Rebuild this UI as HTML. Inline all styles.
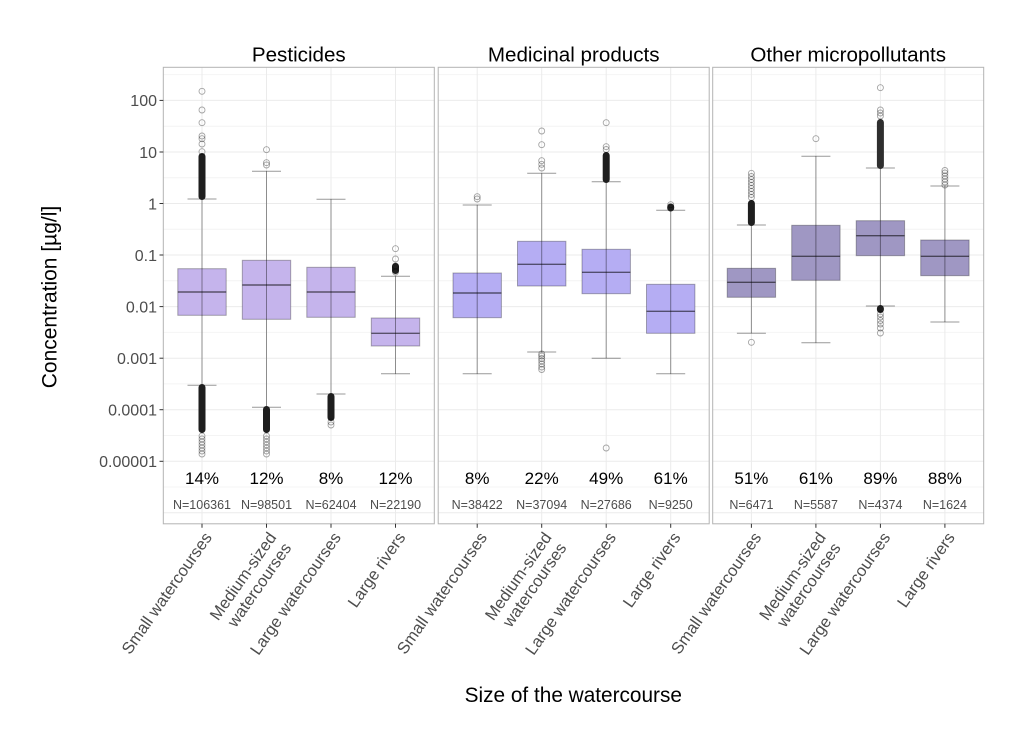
<!DOCTYPE html>
<html><head><meta charset="utf-8"><style>
html,body{margin:0;padding:0;background:#fff;}
svg{display:block;font-family:"Liberation Sans",Arial,sans-serif;}
.gM{stroke:#ebebeb;stroke-width:1;}
.gm{stroke:#f4f4f4;stroke-width:1;}
.w{stroke:rgba(0,0,0,0.4);stroke-width:1;fill:none;}
.b1{fill:#c5b4ec;stroke:rgba(0,0,0,0.3);stroke-width:1;}
.b2{fill:#b5adf3;stroke:rgba(0,0,0,0.3);stroke-width:1;}
.b3{fill:#9f97c3;stroke:rgba(0,0,0,0.3);stroke-width:1;}
.md{stroke:rgba(0,0,0,0.55);stroke-width:1.4;}
.o{fill:none;stroke:rgba(0,0,0,0.35);stroke-width:0.9;}
.d{fill:#1e1e1e;}
.pct{font-size:17px;fill:#000;text-anchor:middle;}
.n{font-size:12.5px;fill:#4d4d4d;text-anchor:middle;}
.yt{font-size:16px;fill:#4d4d4d;text-anchor:end;}
.xt{font-size:16.5px;fill:#4d4d4d;text-anchor:end;}
.st{font-size:20.6px;fill:#000;text-anchor:middle;}
.tk{stroke:#333;stroke-width:1;}
.pb{fill:none;stroke:#b3b3b3;stroke-width:1;}
</style></head><body>
<svg width="1024" height="747" viewBox="0 0 1024 747" xmlns="http://www.w3.org/2000/svg">
<rect width="1024" height="747" fill="#fff"/>
<defs>
<clipPath id="c1"><rect x="163.3" y="67.3" width="271" height="456.5"/></clipPath>
<clipPath id="c2"><rect x="438.2" y="67.3" width="271" height="456.5"/></clipPath>
<clipPath id="c3"><rect x="712.7" y="67.3" width="271" height="456.5"/></clipPath>
</defs>

<!-- ===== Panel 1 ===== -->
<g clip-path="url(#c1)">
<rect x="163.3" y="67.3" width="271" height="456.5" fill="#fff"/>
<g class="gm">
<line x1="163" x2="435" y1="74.6" y2="74.6"/><line x1="163" x2="435" y1="126.2" y2="126.2"/><line x1="163" x2="435" y1="177.7" y2="177.7"/><line x1="163" x2="435" y1="229.3" y2="229.3"/><line x1="163" x2="435" y1="280.8" y2="280.8"/><line x1="163" x2="435" y1="332.4" y2="332.4"/><line x1="163" x2="435" y1="383.9" y2="383.9"/><line x1="163" x2="435" y1="435.5" y2="435.5"/><line x1="163" x2="435" y1="487" y2="487"/>
</g>
<g class="gM">
<line x1="163" x2="435" y1="100.4" y2="100.4"/><line x1="163" x2="435" y1="152" y2="152"/><line x1="163" x2="435" y1="203.5" y2="203.5"/><line x1="163" x2="435" y1="255" y2="255"/><line x1="163" x2="435" y1="306.6" y2="306.6"/><line x1="163" x2="435" y1="358.2" y2="358.2"/><line x1="163" x2="435" y1="409.7" y2="409.7"/><line x1="163" x2="435" y1="461.3" y2="461.3"/><line x1="163" x2="435" y1="512.8" y2="512.8"/>
<line x1="202" x2="202" y1="67" y2="524"/><line x1="266.5" x2="266.5" y1="67" y2="524"/><line x1="331" x2="331" y1="67" y2="524"/><line x1="395.5" x2="395.5" y1="67" y2="524"/>
</g>
<!-- B1 -->
<rect class="b1" x="177.8" y="268.7" width="48.4" height="46.6"/>
<line class="w" x1="202" x2="202" y1="199" y2="385.3"/>
<line class="w" x1="187.5" x2="216.5" y1="199" y2="199"/><line class="w" x1="187.5" x2="216.5" y1="385.3" y2="385.3"/>
<line class="md" x1="177.8" x2="226.2" y1="292" y2="292"/>
<rect class="d" x="198.5" y="153" width="7" height="47" rx="3.5"/>
<circle class="o" cx="202" cy="151.7" r="3"/><circle class="o" cx="202" cy="144" r="3"/><circle class="o" cx="202" cy="138.7" r="3"/><circle class="o" cx="202" cy="136" r="3"/><circle class="o" cx="202" cy="122.7" r="3"/><circle class="o" cx="202" cy="110" r="3"/><circle class="o" cx="202" cy="91.3" r="3"/>
<rect class="d" x="198.5" y="384" width="7" height="49" rx="3.5"/>
<circle class="o" cx="202" cy="436" r="3"/><circle class="o" cx="202" cy="439" r="3"/><circle class="o" cx="202" cy="442" r="3"/><circle class="o" cx="202" cy="445" r="3"/><circle class="o" cx="202" cy="448" r="3"/><circle class="o" cx="202" cy="451" r="3"/><circle class="o" cx="202" cy="454" r="3"/>
<!-- B2 -->
<rect class="b1" x="242.3" y="260.3" width="48.4" height="59"/>
<line class="w" x1="266.5" x2="266.5" y1="171.3" y2="407.3"/>
<line class="w" x1="252" x2="281" y1="171.3" y2="171.3"/><line class="w" x1="252" x2="281" y1="407.3" y2="407.3"/>
<line class="md" x1="242.3" x2="290.7" y1="285" y2="285"/>
<circle class="o" cx="266.5" cy="165" r="3"/><circle class="o" cx="266.5" cy="162.7" r="3"/><circle class="o" cx="266.5" cy="149.7" r="3"/>
<rect class="d" x="263" y="406" width="7" height="27" rx="3.5"/>
<circle class="o" cx="266.5" cy="436" r="3"/><circle class="o" cx="266.5" cy="439" r="3"/><circle class="o" cx="266.5" cy="442" r="3"/><circle class="o" cx="266.5" cy="445" r="3"/><circle class="o" cx="266.5" cy="448" r="3"/><circle class="o" cx="266.5" cy="451" r="3"/><circle class="o" cx="266.5" cy="454" r="3"/>
<!-- B3 -->
<rect class="b1" x="306.8" y="267.3" width="48.4" height="50"/>
<line class="w" x1="331" x2="331" y1="199.3" y2="394"/>
<line class="w" x1="316.5" x2="345.5" y1="199.3" y2="199.3"/><line class="w" x1="316.5" x2="345.5" y1="394" y2="394"/>
<line class="md" x1="306.8" x2="355.2" y1="292" y2="292"/>
<rect class="d" x="327.5" y="393" width="7" height="28" rx="3.5"/>
<circle class="o" cx="331" cy="422" r="3"/><circle class="o" cx="331" cy="425" r="3"/>
<!-- B4 -->
<rect class="b1" x="371.3" y="318" width="48.4" height="28"/>
<line class="w" x1="395.5" x2="395.5" y1="276.3" y2="373.7"/>
<line class="w" x1="381" x2="410" y1="276.3" y2="276.3"/><line class="w" x1="381" x2="410" y1="373.7" y2="373.7"/>
<line class="md" x1="371.3" x2="419.7" y1="333.3" y2="333.3"/>
<circle class="o" cx="395.5" cy="248.7" r="3"/><circle class="o" cx="395.5" cy="259" r="3"/>
<rect class="d" x="392" y="263" width="7" height="11" rx="3.5"/>
<circle class="o" cx="395.5" cy="266" r="3"/><circle class="o" cx="395.5" cy="272" r="3"/>
<text class="pct" x="202" y="484">14%</text><text class="pct" x="266.5" y="484">12%</text><text class="pct" x="331" y="484">8%</text><text class="pct" x="395.5" y="484">12%</text>
<text class="n" x="202" y="509">N=106361</text><text class="n" x="266.5" y="509">N=98501</text><text class="n" x="331" y="509">N=62404</text><text class="n" x="395.5" y="509">N=22190</text>
</g>
<rect class="pb" x="163.3" y="67.3" width="271" height="456.5"/>

<!-- ===== Panel 2 ===== -->
<g clip-path="url(#c2)">
<rect x="438.2" y="67.3" width="271" height="456.5" fill="#fff"/>
<g class="gm">
<line x1="438" x2="710" y1="74.6" y2="74.6"/><line x1="438" x2="710" y1="126.2" y2="126.2"/><line x1="438" x2="710" y1="177.7" y2="177.7"/><line x1="438" x2="710" y1="229.3" y2="229.3"/><line x1="438" x2="710" y1="280.8" y2="280.8"/><line x1="438" x2="710" y1="332.4" y2="332.4"/><line x1="438" x2="710" y1="383.9" y2="383.9"/><line x1="438" x2="710" y1="435.5" y2="435.5"/><line x1="438" x2="710" y1="487" y2="487"/>
</g>
<g class="gM">
<line x1="438" x2="710" y1="100.4" y2="100.4"/><line x1="438" x2="710" y1="152" y2="152"/><line x1="438" x2="710" y1="203.5" y2="203.5"/><line x1="438" x2="710" y1="255" y2="255"/><line x1="438" x2="710" y1="306.6" y2="306.6"/><line x1="438" x2="710" y1="358.2" y2="358.2"/><line x1="438" x2="710" y1="409.7" y2="409.7"/><line x1="438" x2="710" y1="461.3" y2="461.3"/><line x1="438" x2="710" y1="512.8" y2="512.8"/>
<line x1="477.2" x2="477.2" y1="67" y2="524"/><line x1="541.7" x2="541.7" y1="67" y2="524"/><line x1="606.2" x2="606.2" y1="67" y2="524"/><line x1="670.7" x2="670.7" y1="67" y2="524"/>
</g>
<!-- B1 -->
<rect class="b2" x="453" y="273" width="48.4" height="44.7"/>
<line class="w" x1="477.2" x2="477.2" y1="205" y2="373.7"/>
<line class="w" x1="462.7" x2="491.7" y1="205" y2="205"/><line class="w" x1="462.7" x2="491.7" y1="373.7" y2="373.7"/>
<line class="md" x1="453" x2="501.4" y1="293" y2="293"/>
<circle class="o" cx="477.2" cy="196.7" r="3"/><circle class="o" cx="477.2" cy="199" r="3"/>
<!-- B2 -->
<rect class="b2" x="517.5" y="241.3" width="48.4" height="44.7"/>
<line class="w" x1="541.7" x2="541.7" y1="173.3" y2="352"/>
<line class="w" x1="527.2" x2="556.2" y1="173.3" y2="173.3"/><line class="w" x1="527.2" x2="556.2" y1="352" y2="352"/>
<line class="md" x1="517.5" x2="565.9" y1="264.3" y2="264.3"/>
<circle class="o" cx="541.7" cy="131" r="3"/><circle class="o" cx="541.7" cy="144.7" r="3"/><circle class="o" cx="541.7" cy="160.7" r="3"/><circle class="o" cx="541.7" cy="164.3" r="3"/><circle class="o" cx="541.7" cy="168" r="3"/>
<circle class="o" cx="541.7" cy="354" r="3"/><circle class="o" cx="541.7" cy="356" r="3"/><circle class="o" cx="541.7" cy="358.5" r="3"/><circle class="o" cx="541.7" cy="361" r="3"/><circle class="o" cx="541.7" cy="364" r="3"/><circle class="o" cx="541.7" cy="367" r="3"/><circle class="o" cx="541.7" cy="369.5" r="3"/>
<!-- B3 -->
<rect class="b2" x="582" y="249.3" width="48.4" height="44.4"/>
<line class="w" x1="606.2" x2="606.2" y1="181.7" y2="358.3"/>
<line class="w" x1="591.7" x2="620.7" y1="181.7" y2="181.7"/><line class="w" x1="591.7" x2="620.7" y1="358.3" y2="358.3"/>
<line class="md" x1="582" x2="630.4" y1="272.3" y2="272.3"/>
<rect class="d" x="602.7" y="152" width="7" height="31" rx="3.5"/>
<circle class="o" cx="606.2" cy="146.7" r="3"/><circle class="o" cx="606.2" cy="149.5" r="3"/><circle class="o" cx="606.2" cy="122.7" r="3"/>
<circle class="o" cx="606.2" cy="448" r="3"/>
<!-- B4 -->
<rect class="b2" x="646.5" y="284.3" width="48.4" height="49"/>
<line class="w" x1="670.7" x2="670.7" y1="210.3" y2="373.7"/>
<line class="w" x1="656.2" x2="685.2" y1="210.3" y2="210.3"/><line class="w" x1="656.2" x2="685.2" y1="373.7" y2="373.7"/>
<line class="md" x1="646.5" x2="694.9" y1="311.3" y2="311.3"/>
<rect class="d" x="667.2" y="203.5" width="7" height="8" rx="3.5"/>
<circle class="o" cx="670.7" cy="204.7" r="3"/>
<text class="pct" x="477.2" y="484">8%</text><text class="pct" x="541.7" y="484">22%</text><text class="pct" x="606.2" y="484">49%</text><text class="pct" x="670.7" y="484">61%</text>
<text class="n" x="477.2" y="509">N=38422</text><text class="n" x="541.7" y="509">N=37094</text><text class="n" x="606.2" y="509">N=27686</text><text class="n" x="670.7" y="509">N=9250</text>
</g>
<rect class="pb" x="438.2" y="67.3" width="271" height="456.5"/>

<!-- ===== Panel 3 ===== -->
<g clip-path="url(#c3)">
<rect x="712.7" y="67.3" width="271" height="456.5" fill="#fff"/>
<g class="gm">
<line x1="712" x2="984" y1="74.6" y2="74.6"/><line x1="712" x2="984" y1="126.2" y2="126.2"/><line x1="712" x2="984" y1="177.7" y2="177.7"/><line x1="712" x2="984" y1="229.3" y2="229.3"/><line x1="712" x2="984" y1="280.8" y2="280.8"/><line x1="712" x2="984" y1="332.4" y2="332.4"/><line x1="712" x2="984" y1="383.9" y2="383.9"/><line x1="712" x2="984" y1="435.5" y2="435.5"/><line x1="712" x2="984" y1="487" y2="487"/>
</g>
<g class="gM">
<line x1="712" x2="984" y1="100.4" y2="100.4"/><line x1="712" x2="984" y1="152" y2="152"/><line x1="712" x2="984" y1="203.5" y2="203.5"/><line x1="712" x2="984" y1="255" y2="255"/><line x1="712" x2="984" y1="306.6" y2="306.6"/><line x1="712" x2="984" y1="358.2" y2="358.2"/><line x1="712" x2="984" y1="409.7" y2="409.7"/><line x1="712" x2="984" y1="461.3" y2="461.3"/><line x1="712" x2="984" y1="512.8" y2="512.8"/>
<line x1="751.4" x2="751.4" y1="67" y2="524"/><line x1="815.9" x2="815.9" y1="67" y2="524"/><line x1="880.4" x2="880.4" y1="67" y2="524"/><line x1="944.9" x2="944.9" y1="67" y2="524"/>
</g>
<!-- B1 -->
<rect class="b3" x="727.2" y="268.3" width="48.4" height="29"/>
<line class="w" x1="751.4" x2="751.4" y1="225" y2="333.3"/>
<line class="w" x1="736.9" x2="765.9" y1="225" y2="225"/><line class="w" x1="736.9" x2="765.9" y1="333.3" y2="333.3"/>
<line class="md" x1="727.2" x2="775.6" y1="282.3" y2="282.3"/>
<rect class="d" x="747.9" y="200" width="7" height="26" rx="3.5"/>
<circle class="o" cx="751.4" cy="173.3" r="3"/><circle class="o" cx="751.4" cy="176.5" r="3"/><circle class="o" cx="751.4" cy="179.5" r="3"/><circle class="o" cx="751.4" cy="182.5" r="3"/><circle class="o" cx="751.4" cy="185.5" r="3"/><circle class="o" cx="751.4" cy="188.5" r="3"/><circle class="o" cx="751.4" cy="191.5" r="3"/><circle class="o" cx="751.4" cy="194.5" r="3"/><circle class="o" cx="751.4" cy="197.5" r="3"/>
<circle class="o" cx="751.4" cy="342.3" r="3"/>
<!-- B2 -->
<rect class="b3" x="791.7" y="225.3" width="48.4" height="55"/>
<line class="w" x1="815.9" x2="815.9" y1="156.3" y2="342.7"/>
<line class="w" x1="801.4" x2="830.4" y1="156.3" y2="156.3"/><line class="w" x1="801.4" x2="830.4" y1="342.7" y2="342.7"/>
<line class="md" x1="791.7" x2="840.1" y1="256.3" y2="256.3"/>
<circle class="o" cx="815.9" cy="138.7" r="3"/>
<!-- B3 -->
<rect class="b3" x="856.2" y="220.7" width="48.4" height="35"/>
<line class="w" x1="880.4" x2="880.4" y1="168" y2="306"/>
<line class="w" x1="865.9" x2="894.9" y1="168" y2="168"/><line class="w" x1="865.9" x2="894.9" y1="306" y2="306"/>
<line class="md" x1="856.2" x2="904.6" y1="235.7" y2="235.7"/>
<rect x="876.9" y="119" width="7" height="50" rx="3.5" fill="#2e2e2e"/>
<circle class="o" cx="880.4" cy="87.7" r="3"/><circle class="o" cx="880.4" cy="110" r="3"/><circle class="o" cx="880.4" cy="113" r="3"/><circle class="o" cx="880.4" cy="116" r="3"/>
<rect class="d" x="876.9" y="305" width="7" height="8" rx="3.5"/>
<circle class="o" cx="880.4" cy="314" r="3"/><circle class="o" cx="880.4" cy="317" r="3"/><circle class="o" cx="880.4" cy="320.5" r="3"/><circle class="o" cx="880.4" cy="324" r="3"/><circle class="o" cx="880.4" cy="328" r="3"/><circle class="o" cx="880.4" cy="333" r="3"/>
<!-- B4 -->
<rect class="b3" x="920.7" y="240" width="48.4" height="35.7"/>
<line class="w" x1="944.9" x2="944.9" y1="186" y2="322"/>
<line class="w" x1="930.4" x2="959.4" y1="186" y2="186"/><line class="w" x1="930.4" x2="959.4" y1="322" y2="322"/>
<line class="md" x1="920.7" x2="969.1" y1="256.3" y2="256.3"/>
<circle class="o" cx="944.9" cy="170.5" r="3"/><circle class="o" cx="944.9" cy="173" r="3"/><circle class="o" cx="944.9" cy="176" r="3"/><circle class="o" cx="944.9" cy="179" r="3"/><circle class="o" cx="944.9" cy="182" r="3"/><circle class="o" cx="944.9" cy="185" r="3"/>
<text class="pct" x="751.4" y="484">51%</text><text class="pct" x="815.9" y="484">61%</text><text class="pct" x="880.4" y="484">89%</text><text class="pct" x="944.9" y="484">88%</text>
<text class="n" x="751.4" y="509">N=6471</text><text class="n" x="815.9" y="509">N=5587</text><text class="n" x="880.4" y="509">N=4374</text><text class="n" x="944.9" y="509">N=1624</text>
</g>
<rect class="pb" x="712.7" y="67.3" width="271" height="456.5"/>

<!-- strip titles -->
<text class="st" x="298.8" y="61.5">Pesticides</text>
<text class="st" x="573.7" y="61.5">Medicinal products</text>
<text class="st" x="848.2" y="61.5">Other micropollutants</text>

<!-- y axis ticks & labels -->
<g class="tk">
<line x1="159.5" x2="163.3" y1="100.4" y2="100.4"/><line x1="159.5" x2="163.3" y1="152" y2="152"/><line x1="159.5" x2="163.3" y1="203.5" y2="203.5"/><line x1="159.5" x2="163.3" y1="255" y2="255"/><line x1="159.5" x2="163.3" y1="306.6" y2="306.6"/><line x1="159.5" x2="163.3" y1="358.2" y2="358.2"/><line x1="159.5" x2="163.3" y1="409.7" y2="409.7"/><line x1="159.5" x2="163.3" y1="461.3" y2="461.3"/>
</g>
<text class="yt" x="157" y="106.2">100</text>
<text class="yt" x="157" y="157.8">10</text>
<text class="yt" x="157" y="209.3">1</text>
<text class="yt" x="157" y="260.8">0.1</text>
<text class="yt" x="157" y="312.4">0.01</text>
<text class="yt" x="157" y="364">0.001</text>
<text class="yt" x="157" y="415.5">0.0001</text>
<text class="yt" x="157" y="467.1">0.00001</text>

<!-- x ticks -->
<g class="tk">
<line x1="202" x2="202" y1="523.8" y2="527.8"/><line x1="266.5" x2="266.5" y1="523.8" y2="527.8"/><line x1="331" x2="331" y1="523.8" y2="527.8"/><line x1="395.5" x2="395.5" y1="523.8" y2="527.8"/>
<line x1="477.2" x2="477.2" y1="523.8" y2="527.8"/><line x1="541.7" x2="541.7" y1="523.8" y2="527.8"/><line x1="606.2" x2="606.2" y1="523.8" y2="527.8"/><line x1="670.7" x2="670.7" y1="523.8" y2="527.8"/>
<line x1="751.4" x2="751.4" y1="523.8" y2="527.8"/><line x1="815.9" x2="815.9" y1="523.8" y2="527.8"/><line x1="880.4" x2="880.4" y1="523.8" y2="527.8"/><line x1="944.9" x2="944.9" y1="523.8" y2="527.8"/>
</g>

<!-- x tick labels (rotated) -->
<text class="xt" transform="translate(202,530) rotate(-55)"><tspan x="0" dy="12.9">Small watercourses</tspan></text>
<text class="xt" transform="translate(266.5,530) rotate(-55)"><tspan x="0" dy="12.9">Medium-sized</tspan><tspan x="0" dy="18.2">watercourses</tspan></text>
<text class="xt" transform="translate(331,530) rotate(-55)"><tspan x="0" dy="12.9">Large watercourses</tspan></text>
<text class="xt" transform="translate(395.5,530) rotate(-55)"><tspan x="0" dy="12.9">Large rivers</tspan></text>

<text class="xt" transform="translate(477.2,530) rotate(-55)"><tspan x="0" dy="12.9">Small watercourses</tspan></text>
<text class="xt" transform="translate(541.7,530) rotate(-55)"><tspan x="0" dy="12.9">Medium-sized</tspan><tspan x="0" dy="18.2">watercourses</tspan></text>
<text class="xt" transform="translate(606.2,530) rotate(-55)"><tspan x="0" dy="12.9">Large watercourses</tspan></text>
<text class="xt" transform="translate(670.7,530) rotate(-55)"><tspan x="0" dy="12.9">Large rivers</tspan></text>

<text class="xt" transform="translate(751.4,530) rotate(-55)"><tspan x="0" dy="12.9">Small watercourses</tspan></text>
<text class="xt" transform="translate(815.9,530) rotate(-55)"><tspan x="0" dy="12.9">Medium-sized</tspan><tspan x="0" dy="18.2">watercourses</tspan></text>
<text class="xt" transform="translate(880.4,530) rotate(-55)"><tspan x="0" dy="12.9">Large watercourses</tspan></text>
<text class="xt" transform="translate(944.9,530) rotate(-55)"><tspan x="0" dy="12.9">Large rivers</tspan></text>

<!-- axis titles -->
<text x="573.3" y="702" font-size="20.8" fill="#000" text-anchor="middle">Size of the watercourse</text>
<text transform="translate(56.5,297) rotate(-90)" font-size="21" fill="#000" text-anchor="middle">Concentration [µg/l]</text>
</svg>
</body></html>
